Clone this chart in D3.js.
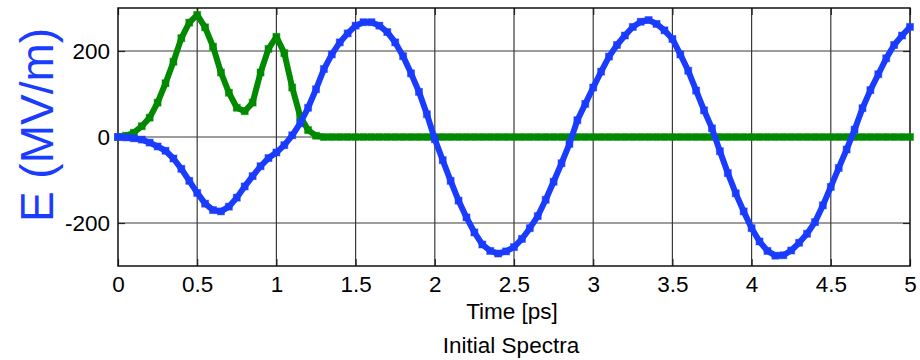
<!DOCTYPE html>
<html>
<head>
<meta charset="utf-8">
<script src="https://cdn.jsdelivr.net/npm/d3@7"></script>
<style>
  html, body { margin: 0; padding: 0; background: #fff; }
  svg { display: block; font-family: "Liberation Sans", Arial, Helvetica, sans-serif; }
</style>
</head>
<body>
<svg id="chart" width="920" height="360"></svg>
<script>
// time samples (ps)
const time = [
  0.00, 0.05, 0.10, 0.15, 0.20, 0.25, 0.30, 0.35, 0.40, 0.45,
  0.50, 0.55, 0.60, 0.65, 0.70, 0.75, 0.80, 0.85, 0.90, 0.95,
  1.00, 1.05, 1.10, 1.15, 1.20, 1.25, 1.30, 1.35, 1.40, 1.45,
  1.50, 1.55, 1.60, 1.65, 1.70, 1.75, 1.80, 1.85, 1.90, 1.95,
  2.00, 2.05, 2.10, 2.15, 2.20, 2.25, 2.30, 2.35, 2.40, 2.45,
  2.50, 2.55, 2.60, 2.65, 2.70, 2.75, 2.80, 2.85, 2.90, 2.95,
  3.00, 3.05, 3.10, 3.15, 3.20, 3.25, 3.30, 3.35, 3.40, 3.45,
  3.50, 3.55, 3.60, 3.65, 3.70, 3.75, 3.80, 3.85, 3.90, 3.95,
  4.00, 4.05, 4.10, 4.15, 4.20, 4.25, 4.30, 4.35, 4.40, 4.45,
  4.50, 4.55, 4.60, 4.65, 4.70, 4.75, 4.80, 4.85, 4.90, 4.95,
  5.00
];

// blue trace, E (MV/m)
const fieldBlue = [
  0, -1, -3, -6, -13, -22, -32, -50, -74, -102,
  -130, -155, -170, -173, -162, -141, -115, -91, -68, -49,
  -36, -19, 4, 32, 68, 111, 158, 192, 220, 241,
  259, 267, 267, 259, 244, 220, 188, 148, 105, 53,
  -5, -54, -102, -148, -187, -222, -250, -265, -271, -266,
  -256, -237, -212, -184, -146, -104, -61, -16, 39, 77,
  115, 152, 187, 214, 236, 256, 268, 272, 263, 248,
  228, 192, 154, 108, 62, 20, -33, -84, -131, -173,
  -212, -243, -265, -276, -275, -264, -246, -225, -198, -159,
  -116, -72, -29, 17, 67, 109, 146, 183, 214, 236,
  256
];

// green trace, E (MV/m)
const fieldGreen = [
  0, 3, 10, 25, 45, 80, 125, 175, 230, 266,
  284, 255, 210, 150, 103, 68, 60, 80, 150, 205,
  233, 195, 115, 48, 16, 3, 0, 0, 0, 0,
  0, 0, 0, 0, 0, 0, 0, 0, 0, 0,
  0, 0, 0, 0, 0, 0, 0, 0, 0, 0,
  0, 0, 0, 0, 0, 0, 0, 0, 0, 0,
  0, 0, 0, 0, 0, 0, 0, 0, 0, 0,
  0, 0, 0, 0, 0, 0, 0, 0, 0, 0,
  0, 0, 0, 0, 0, 0, 0, 0, 0, 0,
  0, 0, 0, 0, 0, 0, 0, 0, 0, 0,
  0
];

const xTicks = [0, 0.5, 1, 1.5, 2, 2.5, 3, 3.5, 4, 4.5, 5];
const yTicks = [-200, 0, 200];

const svg = d3.select("#chart");
const margin = { top: 8, right: 10, bottom: 94, left: 118 };
const width = 920 - margin.left - margin.right;
const height = 360 - margin.top - margin.bottom;

const x = d3.scaleLinear().domain([0, 5]).range([0, width]);
const y = d3.scaleLinear().domain([-300, 300]).range([height, 0]);

const g = svg.append("g").attr("transform", `translate(${margin.left},${margin.top})`);

// grid
g.append("g")
  .attr("class", "grid-x")
  .selectAll("line")
  .data(xTicks.slice(1, -1))
  .enter()
  .append("line")
  .attr("x1", d => x(d)).attr("x2", d => x(d))
  .attr("y1", 0).attr("y2", height)
  .attr("stroke", "#3a3a3a")
  .attr("stroke-width", 1.2);

g.append("g")
  .attr("class", "grid-y")
  .selectAll("line")
  .data(yTicks)
  .enter()
  .append("line")
  .attr("x1", 0).attr("x2", width)
  .attr("y1", d => y(d)).attr("y2", d => y(d))
  .attr("stroke", "#3a3a3a")
  .attr("stroke-width", 1.2);

// axes (inward ticks, MATLAB style)
const tickFmt = d => String(d);
g.append("g")
  .attr("transform", `translate(0,${height})`)
  .call(d3.axisBottom(x).tickValues(xTicks).tickFormat(tickFmt).tickSizeInner(-7).tickSizeOuter(0).tickPadding(10));
g.append("g")
  .call(d3.axisLeft(y).tickValues(yTicks).tickFormat(tickFmt).tickSizeInner(-7).tickSizeOuter(0).tickPadding(8));
g.append("g")
  .call(d3.axisTop(x).tickValues(xTicks).tickFormat("").tickSizeInner(-7).tickSizeOuter(0));
g.append("g")
  .attr("transform", `translate(${width},0)`)
  .call(d3.axisRight(y).tickValues(yTicks).tickFormat("").tickSizeInner(-7).tickSizeOuter(0));

svg.selectAll(".domain").remove();
svg.selectAll(".tick line").attr("stroke", "#222").attr("stroke-width", 1.2);
svg.selectAll(".tick text")
  .attr("font-size", 22.5)
  .attr("fill", "#000")
  .style("font-family", "'Liberation Sans', Arial, sans-serif");

// frame
g.append("rect")
  .attr("x", 0).attr("y", 0)
  .attr("width", width).attr("height", height)
  .attr("fill", "none")
  .attr("stroke", "#111")
  .attr("stroke-width", 1.5);

// traces
const series = [
  { name: "green", values: fieldGreen, color: "#008a00" },
  { name: "blue", values: fieldBlue, color: "#1a3cff" }
];

const line = d3.line()
  .x((d, i) => x(time[i]))
  .y(d => y(d));

const ms = 7;
series.forEach(s => {
  const sg = g.append("g").attr("class", `trace-${s.name}`);
  sg.append("path")
    .datum(s.values)
    .attr("fill", "none")
    .attr("stroke", s.color)
    .attr("stroke-width", 6)
    .attr("stroke-linejoin", "round")
    .attr("d", line);
  sg.selectAll("rect")
    .data(s.values)
    .enter()
    .append("rect")
    .attr("x", (d, i) => x(time[i]) - ms / 2)
    .attr("y", d => y(d) - ms / 2)
    .attr("width", ms)
    .attr("height", ms)
    .attr("fill", s.color)
    .attr("stroke", s.color)
    .attr("stroke-opacity", 0.45)
    .attr("stroke-width", 1);
});

// labels
svg.append("text")
  .attr("transform", `translate(53,${margin.top + height / 2 - 12}) rotate(-90)`)
  .attr("text-anchor", "middle")
  .attr("font-size", 46)
  .attr("fill", "#1a3cff")
  .text("E (MV/m)");

svg.append("text")
  .attr("x", margin.left + width / 2 - 2)
  .attr("y", 319)
  .attr("text-anchor", "middle")
  .attr("font-size", 22.5)
  .attr("fill", "#000")
  .text("Time [ps]");

svg.append("text")
  .attr("x", margin.left + width / 2 - 3)
  .attr("y", 353)
  .attr("text-anchor", "middle")
  .attr("font-size", 22.5)
  .attr("fill", "#000")
  .text("Initial Spectra");
</script>
</body>
</html>
